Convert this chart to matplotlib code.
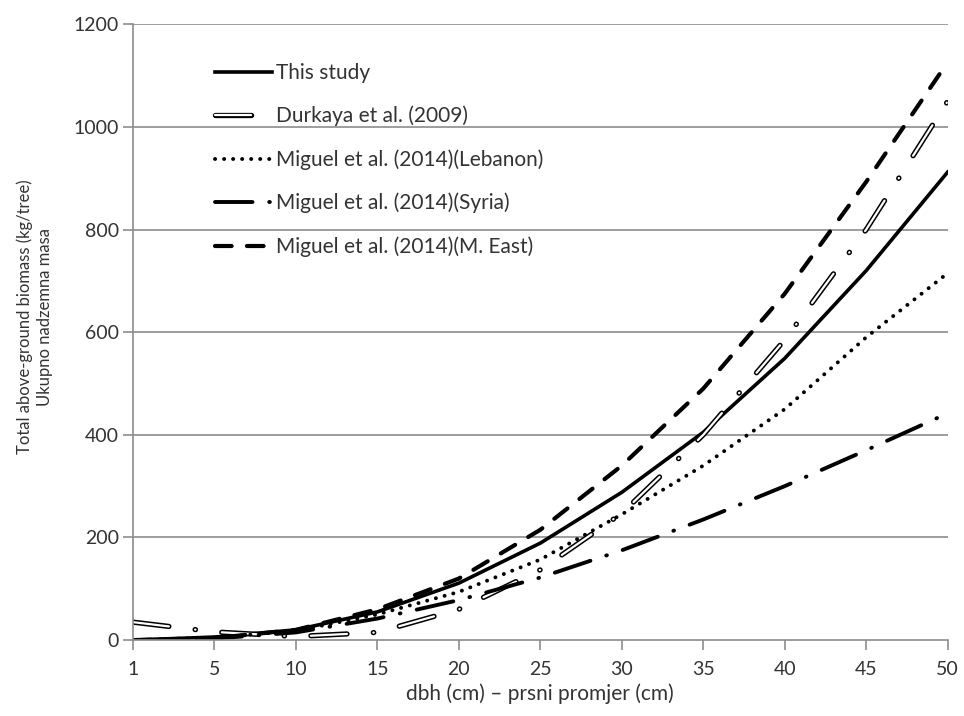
import matplotlib.pyplot as plt
import matplotlib.patheffects as pe

plt.rcParams['font.family'] = ['Lato', 'DejaVu Sans']
plt.rcParams['lines.scale_dashes'] = False

# dbh categories (equally spaced on the axis)
dbh = ['1', '5', '10', '15', '20', '25', '30', '35', '40', '45', '50']

# biomass (kg/tree)
this_study = [0, 6, 20, 55, 111, 189, 288, 405, 549, 720, 912]
durkaya = [35, 16, 7, 15, 60, 137, 247, 400, 585, 800, 1050]
lebanon = [0, 5, 18, 50, 94, 157, 245, 340, 450, 590, 715]
syria = [0, 3, 15, 42, 78, 122, 175, 235, 300, 370, 442]
m_east = [0, 4, 20, 60, 120, 215, 340, 490, 675, 893, 1126]

labels = ['This study', 'Durkaya et al. (2009)',
          'Miguel et al. (2014)(Lebanon)', 'Miguel et al. (2014)(Syria)',
          'Miguel et al. (2014)(M. East)']

x = list(range(len(dbh)))
grey = '#8c8c8c'
txt = '#333333'

fig = plt.figure(figsize=(9.64, 7.16), dpi=100)
ax = fig.add_axes([0.138, 0.106, 0.845, 0.860])

for yv in range(200, 1201, 200):
    ax.axhline(yv, color=grey, lw=1.2, zorder=0)

ax.plot(x, this_study, color='black', lw=2.6, label=labels[0])

# hollow dash-dot line: white core with a black outline
ax.plot(x, durkaya, color='white', lw=1.6, dashes=(26, 19, 0.3, 19),
        dash_capstyle='round', label=labels[1],
        path_effects=[pe.Stroke(linewidth=3.8, foreground='black'), pe.Normal()])

ax.plot(x, lebanon, color='black', lw=2.8, dashes=(0.1, 6.4),
        dash_capstyle='round', label=labels[2])
ax.plot(x, syria, color='black', lw=2.8, dashes=(27, 12, 0.5, 12),
        dash_capstyle='round', label=labels[3])
ax.plot(x, m_east, color='black', lw=3.0, dashes=(12, 11),
        dash_capstyle='round', label=labels[4])

ax.set_xlim(0, 10)
ax.set_ylim(0, 1200)
ax.set_xticks(x)
ax.set_xticklabels(dbh)
ax.set_yticks(range(0, 1201, 200))
ax.tick_params(axis='both', colors=grey, labelcolor=txt,
               labelsize=14, length=7, width=1.2)
ax.tick_params(axis='x', pad=8)
ax.tick_params(axis='y', pad=3)

for side in ['top', 'right']:
    ax.spines[side].set_visible(False)
for side in ['left', 'bottom']:
    ax.spines[side].set_color(grey)
    ax.spines[side].set_linewidth(1.2)

ax.set_xlabel('dbh (cm) – prsni promjer (cm)', fontsize=15, color=txt,
              labelpad=4)
ax.set_ylabel('Total above-ground biomass (kg/tree)\nUkupno nadzemna masa',
              fontsize=12, color=txt, linespacing=1.35)
ax.yaxis.set_label_coords(-0.098, 0.525)

ax.legend(loc='upper left', bbox_to_anchor=(0.077, 0.968), frameon=False,
          fontsize=15, handlelength=2.75, handletextpad=0.2,
          labelspacing=1.1, labelcolor=txt)

plt.savefig('out.png', dpi=100)
